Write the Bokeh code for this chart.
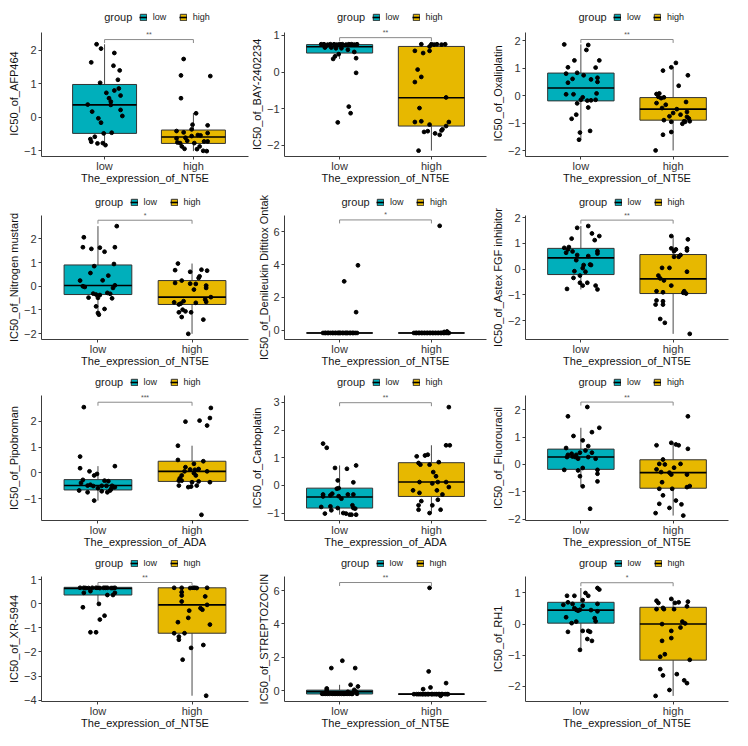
import numpy as np
from bokeh.plotting import figure
from bokeh.models import ColumnDataSource, Range1d, FixedTicker, Legend, LegendItem, Label, Title
from bokeh.layouts import gridplot
from bokeh.embed import file_html
from bokeh.resources import INLINE
from bokeh.core.properties import value

FONT = "Liberation Sans"

groups = ["low", "high"]
group_colors = ["#00AFBB", "#E7B800"]

# ---------------- data: IC50 values and jitter offsets per group ----------------
# box stats are [lower whisker, Q1, median, Q3, upper whisker]

afp464_low_ic50 = [2.18, 2.05, 1.92, 1.64, 1.54, 1.40, 1.03, 1.12, 0.86, 0.80,
                   0.73, 0.65, 0.57, 0.47, 0.38, 0.37, 0.22, 0.17, 0.04, -0.03,
                   -0.16, -0.46, -0.48, -0.58, -0.65, -0.73, -0.78, -0.77, -0.83]
afp464_low_jitter = [-0.09, -0.04, 0.11, -0.15, 0.10, 0.17, -0.05, 0.15, 0.16, 0.11,
                     0.02, 0.18, 0.05, 0.07, -0.19, 0.07, 0.18, -0.14, 0.20, -0.07,
                     -0.04, 0.08, -0.01, -0.11, -0.16, -0.15, -0.08, -0.02, 0.01]
afp464_high_ic50 = [1.74, 1.25, 1.23, 0.57, 0.12, -0.22, -0.24, -0.36, -0.41, -0.45,
                    -0.47, -0.53, -0.56, -0.54, -0.61, -0.63, -0.70, -0.72, -0.75, -0.77,
                    -0.77, -0.72, -0.87, -0.94, -0.95, -1.00, -1.01, -0.87]
afp464_high_jitter = [-0.11, -0.14, 0.19, -0.14, 0.03, -0.01, 0.16, -0.02, -0.19, -0.11,
                      0.16, 0.05, -0.02, 0.08, -0.09, -0.19, -0.07, 0.12, -0.18, -0.15,
                      0.01, 0.16, -0.13, -0.10, 0.04, 0.11, 0.15, 0.07]
afp464_low_box = [-0.83, -0.48, 0.37, 0.98, 2.18]
afp464_high_box = [-1.01, -0.78, -0.59, -0.38, 0.13]

bay_low_ic50 = [0.76, 0.76, 0.75, 0.76, 0.76, 0.75, 0.76, 0.76, 0.75, 0.76,
                0.76, 0.75, 0.76, 0.67, 0.71, 0.67, 0.65, 0.61, 0.65, 0.55,
                0.49, 0.43, 0.36, 0.38, -0.02, -0.94, -1.12, -1.37]
bay_low_jitter = [-0.20, -0.17, -0.13, -0.10, -0.06, -0.03, 0.00, 0.03, 0.07, 0.10,
                  0.13, 0.16, 0.19, -0.16, -0.15, -0.09, 0.02, 0.09, -0.04, 0.16,
                  -0.01, -0.05, -0.07, 0.18, 0.18, 0.10, 0.12, -0.02]
bay_high_ic50 = [0.76, 0.76, 0.75, 0.76, 0.75, 0.76, 0.70, 0.58, 0.58, 0.52,
                 0.07, -0.13, -0.27, -0.69, -0.98, -1.36, -1.34, -1.36, -1.43, -1.47,
                 -1.56, -1.59, -1.63, -1.61, -1.67, -1.71, -2.14]
bay_high_jitter = [-0.11, 0.00, 0.03, 0.06, 0.11, 0.15, -0.02, -0.18, -0.02, -0.09,
                   -0.15, -0.11, -0.18, 0.16, -0.13, -0.18, -0.11, 0.19, -0.02, 0.16,
                   0.12, 0.11, -0.08, -0.04, 0.04, 0.09, -0.14]
bay_low_box = [0.36, 0.52, 0.69, 0.75, 0.76]
bay_high_box = [-2.14, -1.47, -0.70, 0.70, 0.76]

oxa_low_ic50 = [1.86, 1.84, 1.66, 1.28, 1.28, 1.03, 1.02, 0.83, 0.80, 0.74,
                0.65, 0.61, 0.59, 0.50, 0.47, 0.05, 0.05, 0.08, -0.06, -0.15,
                -0.18, -0.17, -0.15, -0.28, -0.43, -0.69, -0.84, -1.28, -1.34, -1.60]
oxa_low_jitter = [-0.18, 0.08, 0.06, -0.07, 0.20, -0.14, 0.16, -0.04, -0.16, 0.03,
                  0.18, -0.09, 0.11, 0.18, -0.14, -0.16, -0.08, 0.17, 0.02, 0.00,
                  0.07, 0.11, 0.16, -0.04, 0.08, -0.05, -0.10, 0.10, -0.01, -0.02]
oxa_high_ic50 = [1.19, 1.03, 0.91, 0.74, 0.36, 0.06, 0.08, -0.04, -0.09, -0.06,
                 -0.27, -0.33, -0.45, -0.49, -0.23, -0.63, -0.59, -0.75, -0.69, -0.77,
                 -0.83, -0.89, -0.95, -0.95, -0.93, -0.93, -1.02, -1.42, -1.32, -1.99]
oxa_high_jitter = [0.03, -0.02, -0.11, 0.16, 0.06, -0.18, -0.15, -0.16, -0.13, -0.10,
                   -0.18, -0.08, -0.12, 0.04, 0.14, 0.00, 0.15, -0.04, 0.08, 0.15,
                   0.17, -0.10, -0.02, 0.13, 0.12, 0.18, 0.10, -0.11, -0.02, -0.19]
oxa_low_box = [-1.60, -0.19, 0.28, 0.82, 1.86]
oxa_high_box = [-1.99, -0.89, -0.49, -0.07, 1.03]

nm_low_ic50 = [2.54, 2.07, 1.65, 1.58, 1.63, 1.65, 1.46, 0.94, 0.85, 0.56,
               0.45, 0.24, 0.25, 0.00, -0.03, 0.04, -0.07, -0.31, -0.35, -0.37,
               -0.28, -0.32, -0.48, -0.49, -0.51, -0.85, -0.96, -1.20, -1.13]
nm_low_jitter = [0.20, -0.15, -0.16, -0.07, 0.02, 0.18, 0.07, 0.17, -0.04, -0.08,
                 0.11, -0.19, 0.05, -0.16, -0.14, 0.18, 0.16, -0.05, -0.02, 0.02,
                 0.10, 0.13, -0.10, 0.00, 0.15, -0.02, 0.07, 0.01, 0.00]
nm_high_ic50 = [0.96, 0.68, 0.61, 0.70, 0.66, 0.42, 0.35, 0.14, 0.11, 0.10,
                0.24, 0.03, -0.07, -0.14, -0.46, -0.56, -0.66, -0.68, -0.63, -0.70,
                -0.77, -0.73, -0.99, -1.06, -1.10, -1.10, -1.30, -1.41, -2.01]
nm_high_jitter = [-0.15, -0.18, -0.02, 0.10, 0.16, 0.08, 0.07, -0.18, -0.02, 0.04,
                  -0.11, 0.15, 0.15, 0.02, 0.20, 0.14, 0.15, -0.19, -0.09, 0.04,
                  -0.14, -0.12, -0.10, -0.07, -0.14, -0.01, -0.11, 0.12, -0.04]
nm_low_box = [-1.20, -0.35, 0.03, 0.90, 2.54]
nm_high_box = [-2.01, -0.77, -0.46, 0.24, 0.96]

ontak_low_ic50 = [3.96, 2.98, 1.10, -0.17, -0.17, -0.17, -0.17, -0.17, -0.17, -0.17,
                  -0.17, -0.17, -0.17, -0.17, -0.17, -0.17, -0.17, -0.17, -0.17, -0.17,
                  -0.17, -0.17, -0.17, -0.17, -0.17, -0.17, -0.17, -0.17, -0.17]
ontak_low_jitter = [0.20, 0.05, 0.18, -0.18, -0.15, -0.12, -0.10, -0.07, -0.04, -0.02,
                    0.01, 0.03, 0.06, 0.09, 0.11, 0.14, 0.17, 0.19, -0.13, -0.05,
                    0.04, 0.12, -0.08, 0.08, 0.00, -0.16, 0.15, -0.01, 0.07]
ontak_high_ic50 = [6.37, -0.08, -0.11, -0.17, -0.17, -0.17, -0.17, -0.17, -0.17, -0.17,
                   -0.17, -0.17, -0.17, -0.17, -0.17, -0.17, -0.17, -0.17, -0.17, -0.17,
                   -0.17, -0.17, -0.17, -0.17, -0.17, -0.17, -0.17, -0.17, -0.17]
ontak_high_jitter = [0.09, 0.17, 0.14, -0.19, -0.16, -0.13, -0.10, -0.07, -0.04, -0.01,
                     0.02, 0.05, 0.08, 0.11, 0.14, 0.18, -0.17, -0.11, -0.05, 0.01,
                     0.07, 0.13, -0.14, -0.02, 0.04, 0.10, -0.08, 0.16, 0.19]
ontak_low_box = [-0.17, -0.17, -0.17, -0.17, -0.17]
ontak_high_box = [-0.17, -0.17, -0.17, -0.17, -0.17]

astex_low_ic50 = [1.68, 1.61, 1.39, 1.29, 1.19, 1.13, 0.83, 0.86, 0.77, 0.69,
                  0.70, 0.61, 0.64, 0.55, 0.51, 0.35, 0.16, 0.16, 0.18, 0.04,
                  -0.08, -0.10, -0.25, -0.34, -0.53, -0.53, -0.64, -0.64, -0.77, -0.79]
astex_low_jitter = [0.08, -0.04, 0.12, 0.20, -0.10, 0.15, -0.18, -0.13, -0.14, -0.09,
                    0.18, 0.18, -0.16, -0.04, 0.08, -0.05, 0.03, 0.11, 0.10, 0.02,
                    -0.07, 0.05, -0.01, -0.08, 0.07, -0.01, 0.02, 0.16, -0.15, 0.18]
astex_high_ic50 = [1.29, 1.16, 0.81, 0.73, 0.81, 0.77, 0.70, 0.55, 0.48, 0.48,
                   0.05, 0.05, -0.10, -0.25, -0.36, -0.44, -0.64, -0.86, -0.90, -0.86,
                   -0.92, -0.95, -1.22, -1.25, -1.38, -1.38, -1.94, -2.09, -2.52]
astex_high_jitter = [-0.02, 0.16, 0.15, 0.15, -0.02, 0.03, 0.01, 0.08, 0.06, 0.01,
                     -0.12, -0.04, 0.15, -0.16, -0.14, -0.10, -0.02, -0.18, -0.11, 0.12,
                     0.11, 0.14, -0.18, -0.11, -0.19, -0.11, -0.14, -0.09, 0.18]
astex_low_box = [-0.79, -0.21, 0.44, 0.81, 1.68]
astex_high_box = [-2.52, -0.95, -0.38, 0.57, 1.29]

pipo_low_ic50 = [2.54, 0.63, 0.18, 0.06, 0.26, -0.04, -0.10, -0.27, -0.39, -0.30,
                 -0.32, -0.46, -0.49, -0.51, -0.50, -0.50, -0.50, -0.55, -0.62, -0.59,
                 -0.68, -0.75, -0.71, -0.75, -0.68, -1.07, -0.55]
pipo_low_jitter = [-0.15, -0.19, -0.19, -0.09, 0.18, -0.01, -0.04, -0.16, -0.18, 0.07,
                   0.11, -0.08, -0.11, -0.05, 0.04, 0.09, 0.15, 0.18, 0.14, 0.00,
                   -0.20, -0.11, 0.04, 0.10, 0.13, -0.04, 0.17]
pipo_high_ic50 = [2.51, 2.12, 2.02, 1.98, 1.83, 1.05, 0.50, 0.45, 0.35, 0.22,
                  0.15, 0.12, 0.13, 0.06, 0.06, -0.01, -0.10, -0.10, -0.21, -0.30,
                  -0.30, -0.33, -0.36, -0.36, -0.49, -0.49, -0.55, -0.53, -1.62]
pipo_high_jitter = [0.20, 0.19, 0.08, -0.07, 0.16, -0.15, -0.15, 0.12, 0.02, -0.07,
                    0.07, 0.03, -0.02, -0.08, 0.16, 0.02, -0.11, 0.04, -0.13, -0.14,
                    -0.11, 0.07, 0.19, 0.00, -0.14, 0.05, -0.04, -0.01, 0.10]
pipo_low_box = [-1.07, -0.66, -0.49, -0.26, 0.26]
pipo_high_box = [-0.55, -0.33, 0.06, 0.45, 1.05]

carbo_low_ic50 = [1.51, 1.36, 0.63, 0.60, 0.72, 0.18, 0.11, -0.12, -0.10, -0.36,
                  -0.40, -0.33, -0.39, -0.30, -0.33, -0.33, -0.48, -0.78, -0.76, -0.90,
                  -0.82, -0.72, -0.84, -1.02, -1.00, -1.02, -1.06, -1.06, -1.06, -0.82]
carbo_low_jitter = [-0.18, -0.14, -0.05, 0.08, 0.18, -0.02, 0.15, -0.03, -0.01, -0.10,
                    -0.18, -0.18, -0.01, -0.08, 0.09, 0.15, 0.02, -0.20, -0.10, -0.09,
                    -0.02, 0.14, 0.17, -0.16, 0.04, 0.07, 0.11, 0.13, 0.18, 0.15]
carbo_high_ic50 = [2.83, 1.45, 1.45, 1.08, 1.05, 1.11, 0.81, 0.75, 0.75, 0.84,
                   0.48, 0.33, 0.12, 0.12, 0.12, 0.07, -0.18, -0.27, -0.18, -0.06,
                   -0.33, -0.52, -0.57, -0.72, -0.88, -0.88, -1.00, -0.72]
carbo_high_jitter = [0.19, 0.16, 0.20, -0.07, -0.16, -0.04, -0.14, -0.02, -0.12, 0.08,
                     0.02, 0.05, -0.13, 0.16, 0.07, 0.01, -0.20, -0.13, 0.06, 0.19,
                     0.12, 0.07, -0.11, -0.14, -0.14, 0.10, -0.02, 0.01]
carbo_low_box = [-1.06, -0.82, -0.42, -0.10, 0.72]
carbo_high_box = [-1.00, -0.40, 0.12, 0.82, 1.45]

fluo_low_ic50 = [2.10, 1.76, 1.34, 1.04, 1.18, 0.88, 0.67, 0.60, 0.51, 0.43,
                 0.43, 0.39, 0.35, 0.35, 0.29, 0.27, 0.27, 0.21, 0.27, 0.21,
                 -0.13, -0.20, -0.22, -0.20, -0.34, -0.43, -0.62, -0.80, -1.62]
fluo_low_jitter = [0.07, -0.14, 0.20, -0.08, 0.12, 0.02, 0.08, -0.16, 0.05, -0.01,
                   0.12, -0.10, -0.14, -0.05, -0.09, -0.06, -0.15, -0.03, 0.08, 0.16,
                   0.02, -0.18, -0.03, 0.18, 0.18, -0.01, 0.18, 0.02, 0.10]
fluo_high_ic50 = [1.76, 0.70, 0.79, 0.73, 0.70, 0.57, 0.18, 0.02, 0.00, 0.02,
                  -0.18, -0.28, -0.37, -0.12, -0.37, -0.30, -0.65, -0.79, -0.83, -0.89,
                  -1.13, -1.32, -1.44, -1.46, -1.59, -1.78, -1.87, -0.89]
fluo_high_jitter = [0.16, -0.18, -0.02, 0.03, 0.06, 0.16, -0.11, -0.15, -0.09, 0.08,
                    -0.18, -0.13, -0.02, 0.01, 0.15, -0.04, -0.12, 0.18, 0.15, -0.15,
                    -0.11, 0.03, -0.15, 0.09, -0.04, -0.19, 0.11, -0.01]
fluo_low_box = [-0.80, -0.18, 0.27, 0.56, 1.34]
fluo_high_box = [-1.87, -0.87, -0.30, 0.17, 0.79]

xr_low_ic50 = [0.67, 0.67, 0.66, 0.67, 0.67, 0.66, 0.67, 0.67, 0.66, 0.67,
               0.66, 0.67, 0.67, 0.66, 0.53, 0.46, 0.37, 0.37, 0.46, 0.00,
               -0.14, -0.49, -0.65, -1.18, -1.18]
xr_low_jitter = [-0.19, -0.15, -0.10, -0.06, -0.02, 0.02, 0.06, 0.10, 0.14, 0.18,
                 -0.13, 0.00, 0.08, 0.16, -0.08, -0.15, 0.10, 0.16, 0.18, 0.01,
                 -0.16, 0.07, 0.02, -0.08, -0.02]
xr_high_ic50 = [0.67, 0.67, 0.66, 0.67, 0.67, 0.66, 0.67, 0.49, 0.35, 0.31,
                0.10, -0.04, -0.28, -0.18, -0.24, -0.58, -0.76, -0.86, -1.22, -1.22,
                -1.36, -1.49, -1.83, -1.71, -2.32, -3.82]
xr_high_jitter = [-0.19, -0.11, -0.02, 0.01, 0.03, 0.05, 0.16, -0.11, -0.11, 0.14,
                  -0.11, 0.16, -0.03, 0.09, 0.11, -0.04, -0.15, 0.19, -0.19, -0.08,
                  -0.14, -0.14, -0.01, 0.12, -0.10, 0.15]
xr_low_box = [0.00, 0.37, 0.64, 0.69, 0.69]
xr_high_box = [-3.82, -1.22, -0.04, 0.67, 0.67]

strep_low_ic50 = [1.80, 1.36, 1.36, 0.36, 0.26, 0.14, 0.04, 0.06, -0.06, -0.06,
                  -0.18, -0.18, -0.18, -0.18, -0.18, -0.18, -0.18, -0.18, -0.18, -0.18,
                  -0.18, -0.18, -0.18, -0.18, -0.18, -0.18, -0.18, -0.18, -0.18]
strep_low_jitter = [0.03, -0.09, 0.17, 0.12, 0.20, -0.14, -0.14, 0.16, 0.09, 0.18,
                    -0.19, -0.15, -0.11, -0.08, -0.04, 0.00, 0.04, 0.07, 0.11, 0.14,
                    0.19, -0.13, -0.02, 0.05, 0.09, -0.06, 0.13, -0.17, 0.02]
strep_high_ic50 = [6.16, 1.16, 0.46, 0.20, 0.10, -0.30, -0.20, -0.20, -0.20, -0.20,
                   -0.20, -0.20, -0.20, -0.20, -0.20, -0.20, -0.20, -0.20, -0.20, -0.20,
                   -0.20, -0.20, -0.20, -0.20, -0.20, -0.20, -0.20, -0.20]
strep_high_jitter = [-0.02, -0.03, 0.16, -0.01, -0.09, 0.10, -0.19, -0.16, -0.12, -0.09,
                     -0.06, -0.03, 0.00, 0.03, 0.06, 0.09, 0.12, 0.15, 0.18, -0.14,
                     -0.04, 0.05, 0.11, -0.10, 0.01, 0.17, -0.07, 0.08]
strep_low_box = [-0.20, -0.19, -0.05, 0.04, 0.36]
strep_high_box = [-0.20, -0.20, -0.20, -0.20, -0.20]

rh1_low_ic50 = [1.16, 1.11, 1.00, 0.91, 0.91, 0.91, 0.77, 0.70, 0.62, 0.65,
                0.65, 0.59, 0.51, 0.46, 0.43, 0.46, 0.45, 0.41, 0.19, 0.22,
                0.09, 0.03, 0.08, -0.25, -0.22, -0.22, -0.25, -0.48, -0.54, -0.83]
rh1_low_jitter = [0.18, 0.20, 0.05, 0.08, -0.15, -0.07, 0.02, -0.14, -0.19, -0.09,
                  0.18, 0.02, -0.07, -0.05, -0.03, -0.01, 0.11, 0.18, 0.15, -0.16,
                  0.16, -0.10, -0.05, -0.14, 0.02, 0.08, 0.10, 0.07, 0.12, -0.01]
rh1_high_ic50 = [0.81, 0.75, 0.68, 0.70, 0.72, 0.68, 0.57, 0.48, 0.52, 0.48,
                 0.48, 0.08, -0.11, 0.02, 0.00, -0.22, -0.45, -0.54, -0.97, -1.05,
                 -1.15, -1.45, -1.65, -1.61, -1.81, -1.90, -2.12, -2.31]
rh1_high_jitter = [-0.02, -0.18, -0.16, 0.06, 0.16, 0.02, 0.15, -0.18, -0.11, -0.10,
                   0.01, 0.10, 0.08, 0.13, -0.12, -0.02, -0.02, -0.12, -0.09, -0.14,
                   0.18, -0.14, -0.11, 0.04, 0.12, 0.15, -0.04, -0.19]
rh1_low_box = [-0.83, 0.03, 0.45, 0.70, 1.16]
rh1_high_box = [-2.31, -1.16, 0.00, 0.54, 0.81]

drug_names = ["AFP464", "BAY-2402234", "Oxaliplatin",
              "Nitrogen mustard", "Denileukin Diftitox Ontak", "Astex FGF inhibitor",
              "Pipobroman", "Carboplatin", "Fluorouracil",
              "XR-5944", "STREPTOZOCIN", "RH1"]
gene_names = ["NT5E", "NT5E", "NT5E", "NT5E", "NT5E", "NT5E",
              "ADA", "ADA", "NT5E", "NT5E", "NT5E", "NT5E"]
sig_labels = ["**", "**", "**", "*", "*", "**", "***", "**", "**", "**", "**", "*"]
y_tick_values = [[-1, 0, 1, 2], [-2, -1, 0, 1], [-2, -1, 0, 1, 2],
                 [-2, -1, 0, 1, 2], [0, 2, 4, 6], [-2, -1, 0, 1, 2],
                 [-1, 0, 1, 2], [-1, 0, 1, 2, 3], [-2, -1, 0, 1, 2],
                 [-4, -3, -2, -1, 0, 1], [0, 2, 4, 6], [-2, -1, 0, 1]]

low_values = [afp464_low_ic50, bay_low_ic50, oxa_low_ic50, nm_low_ic50, ontak_low_ic50, astex_low_ic50,
              pipo_low_ic50, carbo_low_ic50, fluo_low_ic50, xr_low_ic50, strep_low_ic50, rh1_low_ic50]
low_jitters = [afp464_low_jitter, bay_low_jitter, oxa_low_jitter, nm_low_jitter, ontak_low_jitter, astex_low_jitter,
               pipo_low_jitter, carbo_low_jitter, fluo_low_jitter, xr_low_jitter, strep_low_jitter, rh1_low_jitter]
high_values = [afp464_high_ic50, bay_high_ic50, oxa_high_ic50, nm_high_ic50, ontak_high_ic50, astex_high_ic50,
               pipo_high_ic50, carbo_high_ic50, fluo_high_ic50, xr_high_ic50, strep_high_ic50, rh1_high_ic50]
high_jitters = [afp464_high_jitter, bay_high_jitter, oxa_high_jitter, nm_high_jitter, ontak_high_jitter, astex_high_jitter,
                pipo_high_jitter, carbo_high_jitter, fluo_high_jitter, xr_high_jitter, strep_high_jitter, rh1_high_jitter]
low_boxes = [afp464_low_box, bay_low_box, oxa_low_box, nm_low_box, ontak_low_box, astex_low_box,
             pipo_low_box, carbo_low_box, fluo_low_box, xr_low_box, strep_low_box, rh1_low_box]
high_boxes = [afp464_high_box, bay_high_box, oxa_high_box, nm_high_box, ontak_high_box, astex_high_box,
              pipo_high_box, carbo_high_box, fluo_high_box, xr_high_box, strep_high_box, rh1_high_box]

# ---------------- layout ----------------
col_widths = [249, 241, 258]
row_heights = [186, 187, 187, 186]
row_border_top = [33, 29, 22, 16]      # figure top -> top of the data panel
row_border_bottom = [27, 34, 40, 45]
panel_border_left = [31, 32, 32, 41, 26, 31, 41, 32, 32, 41, 26, 31]
panel_border_right = [1, 4, 20, 1, 1, 20, 1, 4, 20, 1, 2, 20]
panel_x_limits = [(0.29, 2.62)] + [(0.4, 2.6)] * 11
panel_y_limits = [(-1.17, 2.52), (-2.30, 1.07), (-2.21, 2.28),
                  (-2.25, 2.99), (-0.57, 7.0), (-2.74, 2.09),
                  (-1.84, 2.99), (-1.27, 3.25), (-2.05, 2.52),
                  (-4.06, 1.14), (-0.64, 6.84), (-2.49, 1.53)]
bracket_levels = [2.32, 0.94, 2.04, 2.79, 6.73, 1.91, 2.73, 2.99, 2.28, 0.89, 6.48, 1.33]

BOX_HALF = 0.36
AXIS_COLOR = "#3c3c3c"
TITLE_PX = 11

# Helvetica/Arial advance widths (1/1000 em), used to centre the rotated y titles
_W = {" ": 278, "-": 333, "_": 556}
_W.update({d: 556 for d in "0123456789"})
_W.update(dict(zip("ABCDEFGHIJKLMNOPQRSTUVWXYZ",
                   [667, 667, 722, 722, 667, 611, 778, 722, 278, 500, 667, 556, 833,
                    722, 778, 667, 778, 722, 667, 611, 722, 667, 944, 667, 667, 611])))
_W.update(dict(zip("abcdefghijklmnopqrstuvwxyz",
                   [556, 556, 500, 556, 556, 278, 556, 556, 222, 222, 500, 222, 833,
                    556, 556, 556, 556, 333, 500, 278, 556, 500, 722, 500, 500, 500])))


def text_px(s, size):
    return sum(_W.get(ch, 556) for ch in s) * size / 1000.0


def make_panel(i):
    r, c = divmod(i, 3)
    width, height = col_widths[c], row_heights[r]
    bl, br = panel_border_left[i], panel_border_right[i]
    bt, bb = row_border_top[r], row_border_bottom[r]
    x0, x1 = panel_x_limits[i]
    y0, y1 = panel_y_limits[i]

    fw = width - bl - br
    fh = height - bt - bb            # data panel height
    upx = (y1 - y0) / fh             # data units per pixel, vertical
    # the plotting frame reaches up to the figure top so the legend row sits inside it;
    # the y axis line itself is bounded to the data panel
    y_top = y1 + bt * upx

    p = figure(width=width, height=height, x_range=Range1d(x0, x1), y_range=Range1d(y0, y_top),
               output_backend="svg", toolbar_location=None, title=None,
               min_border_left=bl, min_border_right=br, min_border_top=0, min_border_bottom=bb)
    p.outline_line_color = None
    p.xgrid.visible = False
    p.ygrid.visible = False
    p.background_fill_color = "white"
    p.border_fill_color = "white"

    box_renderers, median_renderers = [], []
    for g, (center, vals, jit, box) in enumerate([(1, low_values[i], low_jitters[i], low_boxes[i]),
                                                   (2, high_values[i], high_jitters[i], high_boxes[i])]):
        lo, q1, med, q3, hi = box
        p.segment(x0=[center, center], y0=[q3, q1], x1=[center, center], y1=[hi, lo],
                  line_color="#4a4a4a", line_width=1)
        br_ = p.quad(left=[center - BOX_HALF], right=[center + BOX_HALF], bottom=[q1], top=[q3],
                     fill_color=group_colors[g], line_color="#333333", line_width=1)
        mr = p.segment(x0=[center - BOX_HALF], y0=[med], x1=[center + BOX_HALF], y1=[med],
                       line_color="black", line_width=1.6)
        box_renderers.append(br_)
        median_renderers.append(mr)
        src = ColumnDataSource(dict(x=center + np.array(jit), y=np.array(vals)))
        p.scatter("x", "y", source=src, size=3.8, color="black")

    # significance bracket
    yb = bracket_levels[i]
    tick = 3.5 * upx
    p.segment(x0=[1, 1, 2], y0=[yb, yb, yb], x1=[2, 1, 2], y1=[yb, yb - tick, yb - tick],
              line_color="#8a8a8a", line_width=1)
    p.text(x=[1.5], y=[yb + 5 * upx], text=[sig_labels[i]], text_font=value(FONT),
           text_font_size=value("7px"), text_align="center", text_baseline="middle",
           text_color="#555555")

    # axes
    xa, ya = p.xaxis[0], p.yaxis[0]
    xa.ticker = FixedTicker(ticks=[1, 2])
    xa.major_label_overrides = {1: "low", 2: "high"}
    ya.ticker = FixedTicker(ticks=y_tick_values[i])
    ya.bounds = (y0, y1)
    for ax in (xa, ya):
        ax.axis_line_color = AXIS_COLOR
        ax.axis_line_width = 1
        ax.major_tick_line_color = AXIS_COLOR
        ax.minor_tick_line_color = None
        ax.major_tick_out = 3
        ax.major_tick_in = 0
        ax.major_label_text_font = FONT
        ax.major_label_text_font_size = "11px"
        ax.major_label_text_color = "#333333"
        ax.axis_label_text_font = FONT
        ax.axis_label_text_font_size = "11px"
        ax.axis_label_text_font_style = "normal"
        ax.axis_label_text_color = "#111111"
    xa.axis_label = "The_expression_of_" + gene_names[i]
    xa.major_label_standoff = 0
    xa.axis_label_standoff = -3
    ya.major_label_standoff = 2

    # y title, centred on the data panel (not on the taller plotting frame)
    ytxt = "IC50_of_" + drug_names[i]
    offset = fh / 2 - text_px(ytxt, TITLE_PX) / 2
    p.add_layout(Title(text=ytxt, align="left", offset=offset, vertical_align="middle",
                       standoff=0, text_font=FONT, text_font_size=f"{TITLE_PX}px",
                       text_font_style="normal", text_color="#111111"), "left")

    # legend row above the data panel
    ppu = fw / (x1 - x0)
    cx = (1.5 - x0) * ppu
    group_left = cx - 50
    legend = Legend(items=[LegendItem(label=groups[0], renderers=[box_renderers[0], median_renderers[0]]),
                           LegendItem(label=groups[1], renderers=[box_renderers[1], median_renderers[1]])],
                    location=(group_left + 35, fh + 8.5), orientation="horizontal",
                    glyph_width=8, glyph_height=8, label_standoff=6, spacing=6,
                    padding=0, margin=0, border_line_color=None, background_fill_alpha=0,
                    label_text_font=FONT, label_text_font_size="9px", label_text_color="#222222",
                    label_height=9)
    p.add_layout(legend)
    p.add_layout(Label(x=group_left, y=fh + 14, x_units="screen", y_units="screen", text="group",
                       text_font=FONT, text_font_size="11px", text_baseline="middle",
                       text_color="#222222"))
    return p


panels = [make_panel(i) for i in range(12)]
grid = gridplot([panels[0:3], panels[3:6], panels[6:9], panels[9:12]], toolbar_location=None)

open("out.html", "w").write(file_html(grid, INLINE))
